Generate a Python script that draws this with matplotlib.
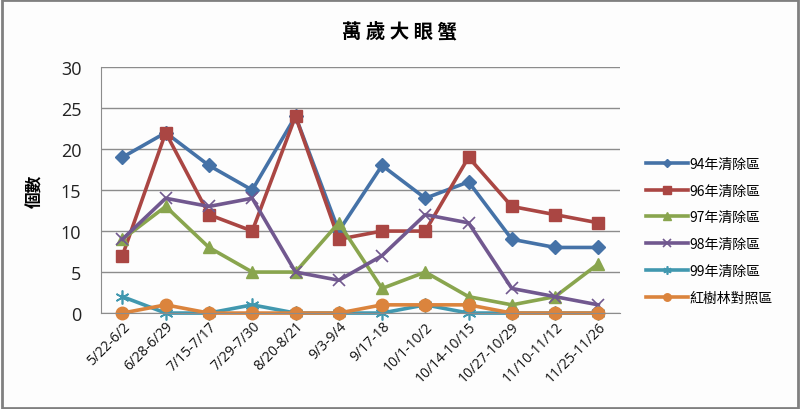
import matplotlib.pyplot as plt
from matplotlib.patches import Rectangle

# data
periods = ['5/22-6/2', '6/28-6/29', '7/15-7/17', '7/29-7/30', '8/20-8/21', '9/3-9/4',
           '9/17-18', '10/1-10/2', '10/14-10/15', '10/27-10/29', '11/10-11/12', '11/25-11/26']
y94 = [19, 22, 18, 15, 24, 10, 18, 14, 16, 9, 8, 8]
y96 = [7, 22, 12, 10, 24, 9, 10, 10, 19, 13, 12, 11]
y97 = [9, 13, 8, 5, 5, 11, 3, 5, 2, 1, 2, 6]
y98 = [9, 14, 13, 14, 5, 4, 7, 12, 11, 3, 2, 1]
y99 = [2, 0, 0, 1, 0, 0, 0, 1, 0, 0, 0, 0]
ctrl = [0, 1, 0, 0, 0, 0, 1, 1, 1, 0, 0, 0]
names = ['94年清除區', '96年清除區', '97年清除區', '98年清除區', '99年清除區', '紅樹林對照區']
yticks = [0, 5, 10, 15, 20, 25, 30]

series = [y94, y96, y97, y98, y99, ctrl]
colors = ['#4572A7', '#AA4643', '#89A54E', '#71588F', '#4198AF', '#DB843D']
markers = ['D', 's', '^', 'x', (6, 2, 0), 'o']
msizes = [7, 9, 9, 9, 10, 9]

cjk = ['Noto Sans CJK TC', 'DejaVu Sans']

fig = plt.figure(figsize=(8, 4.1), dpi=100)
fig.patch.set_facecolor('#fdfdfd')
fig.patches.append(Rectangle((0.002, 0.003), 0.996, 0.994, transform=fig.transFigure,
                             fill=False, edgecolor='#808080', linewidth=2))

ax = fig.add_axes([0.126, 0.234, 0.649, 0.600])
ax.set_facecolor('none')
x = list(range(len(periods)))
for ys, c, m, ms, n in zip(series, colors, markers, msizes, names):
    mew = 1.2 if m in ('x', (6, 2, 0)) else 1
    ax.plot(x, ys, color=c, lw=2.6, marker=m, markersize=ms, markeredgewidth=mew,
            markeredgecolor=c, label=n, clip_on=False)

ax.set_xlim(-0.5, len(periods) - 0.5)
ax.set_ylim(0, 30)
ax.set_yticks(yticks)
ax.yaxis.grid(True, color='#8c8c8c', lw=1)
ax.set_axisbelow(True)
for s in ['top', 'right']:
    ax.spines[s].set_visible(False)
for s in ['left', 'bottom']:
    ax.spines[s].set_color('#8c8c8c')
ax.tick_params(axis='y', length=0, labelsize=13, pad=14, colors='#222222')
ax.tick_params(axis='x', length=0, pad=4)
ax.set_xticks(x)
ax.set_xticklabels(periods, rotation=45, ha='right', rotation_mode='anchor',
                   fontsize=10, family='Open Sans', color='#111111')
for lbl in ax.get_yticklabels():
    lbl.set_family('Open Sans')

ax.set_ylabel('個數', family=cjk, fontsize=12, fontweight='bold', labelpad=12)
fig.text(0.5, 0.92, '萬 歲 大 眼 蟹', ha='center', va='center', family=cjk,
         fontsize=14, fontweight='bold')

leg = ax.legend(loc='center left', bbox_to_anchor=(1.05, 0.335), frameon=False,
                borderaxespad=0, borderpad=0,
                prop={'family': cjk, 'size': 10}, handlelength=3.0, markerscale=0.6,
                handletextpad=0.15, labelspacing=0.92)

fig.savefig('out.png', dpi=100, facecolor=fig.get_facecolor())
